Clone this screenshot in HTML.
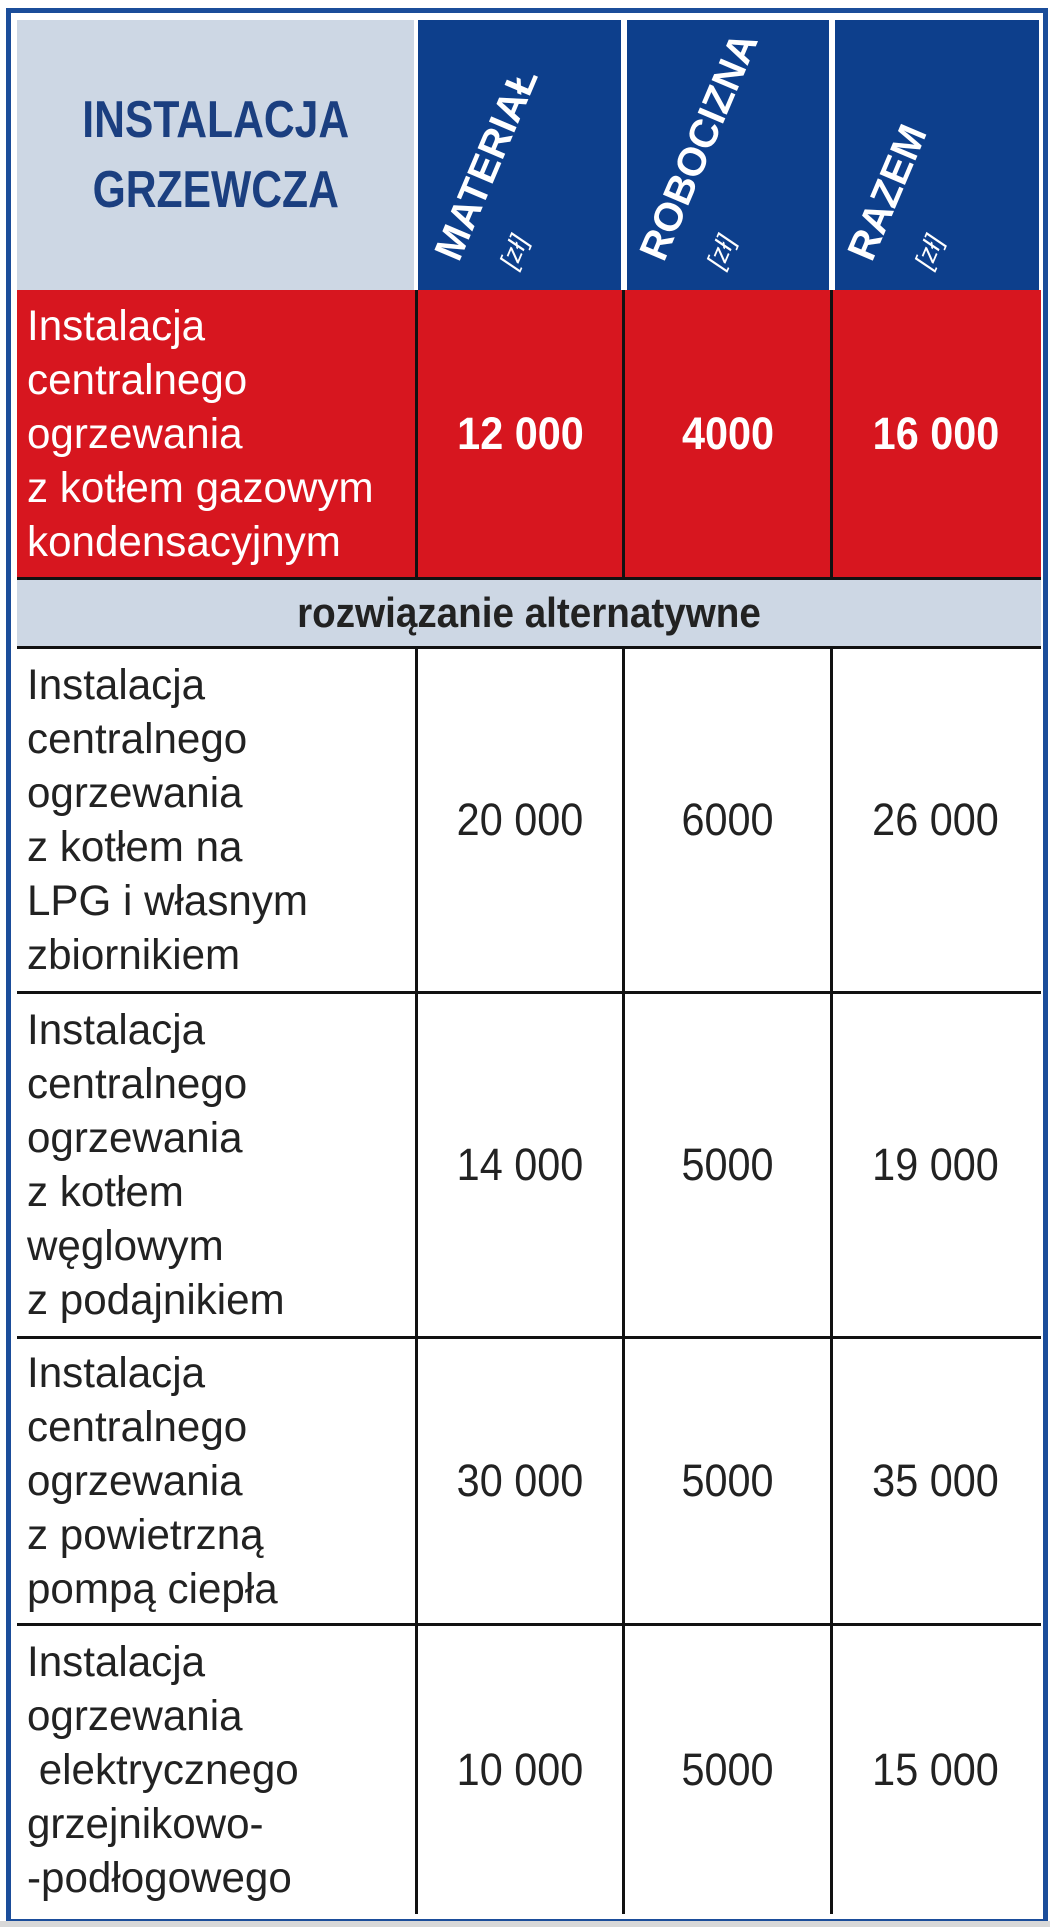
<!DOCTYPE html>
<html><head><meta charset="utf-8"><style>
html,body{margin:0;padding:0;background:#fff}
body{width:1050px;height:1927px;position:relative;overflow:hidden;font-family:"Liberation Sans",sans-serif}
.frame{position:absolute;left:6px;top:8px;width:1032px;height:1906px;border:5px solid #1b4d9a;background:#fff}
.c{position:absolute;box-sizing:border-box;display:flex;align-items:center}
.t{font-size:43px;line-height:54px;transform:scaleX(0.98);transform-origin:left center;white-space:nowrap}
.n{font-size:45px;width:100%;text-align:center;transform:scaleX(0.92);white-space:nowrap}
.vl{position:absolute;width:3px;background:#111}
.hl{position:absolute;height:3px;background:#111;left:17px;width:1024px}
.rot{position:absolute;color:#fff;font-weight:bold;white-space:nowrap;transform-origin:left bottom}
</style></head><body>
<div class="frame"></div>
<!-- header -->
<div class="c" style="left:17px;top:20px;width:397px;height:270px;background:#cdd7e4;justify-content:center">
 <div style="text-align:center;color:#1b3f80;font-weight:bold;font-size:52px;line-height:70px;transform:scaleX(0.82)">INSTALACJA<br>GRZEWCZA</div>
</div>
<div class="c" style="left:418px;top:20px;width:203px;height:270px;background:#0d3f8c"></div>
<div class="c" style="left:627px;top:20px;width:202px;height:270px;background:#0d3f8c"></div>
<div class="c" style="left:835px;top:20px;width:204px;height:270px;background:#0d3f8c"></div>
<div class="rot" style="left:468px;top:222px;font-size:40px;transform:rotate(-67deg)">MATERIAŁ</div>
<div class="rot" style="left:522px;top:242px;font-size:26px;font-weight:normal;font-style:italic;transform:rotate(-67deg)">[zł]</div>
<div class="rot" style="left:673px;top:222px;font-size:40px;transform:rotate(-67deg)">ROBOCIZNA</div>
<div class="rot" style="left:729px;top:242px;font-size:26px;font-weight:normal;font-style:italic;transform:rotate(-67deg)">[zł]</div>
<div class="rot" style="left:881px;top:222px;font-size:40px;transform:rotate(-67deg)">RAZEM</div>
<div class="rot" style="left:937px;top:242px;font-size:26px;font-weight:normal;font-style:italic;transform:rotate(-67deg)">[zł]</div>
<!-- red row -->
<div class="c" style="left:17px;top:290px;width:1024px;height:288px;background:#d7161f"></div>
<div class="c" style="left:27px;top:290px;width:390px;height:288px;color:#fff"><div class="t">Instalacja<br>centralnego<br>ogrzewania<br>z kotłem gazowym<br>kondensacyjnym</div></div>
<div class="c" style="left:417px;top:290px;width:207px;height:288px;color:#fff;font-weight:bold"><div class="n">12 000</div></div>
<div class="c" style="left:624px;top:290px;width:208px;height:288px;color:#fff;font-weight:bold"><div class="n">4000</div></div>
<div class="c" style="left:832px;top:290px;width:208px;height:288px;color:#fff;font-weight:bold"><div class="n">16 000</div></div>
<!-- grey row -->
<div class="c" style="left:17px;top:580px;width:1024px;height:66px;background:#cdd7e4;justify-content:center"><div class="n" style="font-weight:bold;color:#222;font-size:42px">rozwiązanie alternatywne</div></div>
<!-- lines -->
<div class="hl" style="top:577px"></div>
<div class="hl" style="top:646px"></div>
<div class="hl" style="top:991px"></div>
<div class="hl" style="top:1336px"></div>
<div class="hl" style="top:1623px"></div>
<div class="vl" style="left:415px;top:290px;height:288px"></div>
<div class="vl" style="left:622px;top:290px;height:288px"></div>
<div class="vl" style="left:830px;top:290px;height:288px"></div>
<div class="vl" style="left:415px;top:647px;height:1267px"></div>
<div class="vl" style="left:622px;top:647px;height:1267px"></div>
<div class="vl" style="left:830px;top:647px;height:1267px"></div>
<!-- body rows -->
<div class="c" style="left:27px;top:648px;width:388px;height:343px;color:#222"><div class="t">Instalacja<br>centralnego<br>ogrzewania<br>z kotłem na<br>LPG i własnym<br>zbiornikiem</div></div>
<div class="c" style="left:418px;top:648px;width:204px;height:343px;color:#222"><div class="n">20 000</div></div>
<div class="c" style="left:625px;top:648px;width:205px;height:343px;color:#222"><div class="n">6000</div></div>
<div class="c" style="left:833px;top:648px;width:205px;height:343px;color:#222"><div class="n">26 000</div></div>

<div class="c" style="left:27px;top:994px;width:388px;height:342px;color:#222"><div class="t">Instalacja<br>centralnego<br>ogrzewania<br>z kotłem<br>węglowym<br>z podajnikiem</div></div>
<div class="c" style="left:418px;top:994px;width:204px;height:342px;color:#222"><div class="n">14 000</div></div>
<div class="c" style="left:625px;top:994px;width:205px;height:342px;color:#222"><div class="n">5000</div></div>
<div class="c" style="left:833px;top:994px;width:205px;height:342px;color:#222"><div class="n">19 000</div></div>

<div class="c" style="left:27px;top:1339px;width:388px;height:284px;color:#222"><div class="t">Instalacja<br>centralnego<br>ogrzewania<br>z powietrzną<br>pompą ciepła</div></div>
<div class="c" style="left:418px;top:1339px;width:204px;height:284px;color:#222"><div class="n">30 000</div></div>
<div class="c" style="left:625px;top:1339px;width:205px;height:284px;color:#222"><div class="n">5000</div></div>
<div class="c" style="left:833px;top:1339px;width:205px;height:284px;color:#222"><div class="n">35 000</div></div>

<div class="c" style="left:27px;top:1626px;width:388px;height:288px;color:#222"><div class="t">Instalacja<br>ogrzewania<br>&nbsp;elektrycznego<br>grzejnikowo-<br>-podłogowego</div></div>
<div class="c" style="left:418px;top:1626px;width:204px;height:288px;color:#222"><div class="n">10 000</div></div>
<div class="c" style="left:625px;top:1626px;width:205px;height:288px;color:#222"><div class="n">5000</div></div>
<div class="c" style="left:833px;top:1626px;width:205px;height:288px;color:#222"><div class="n">15 000</div></div>
<div style="position:absolute;left:0;top:1921px;width:1050px;height:6px;background:#d8d8d8"></div>
</body></html>
